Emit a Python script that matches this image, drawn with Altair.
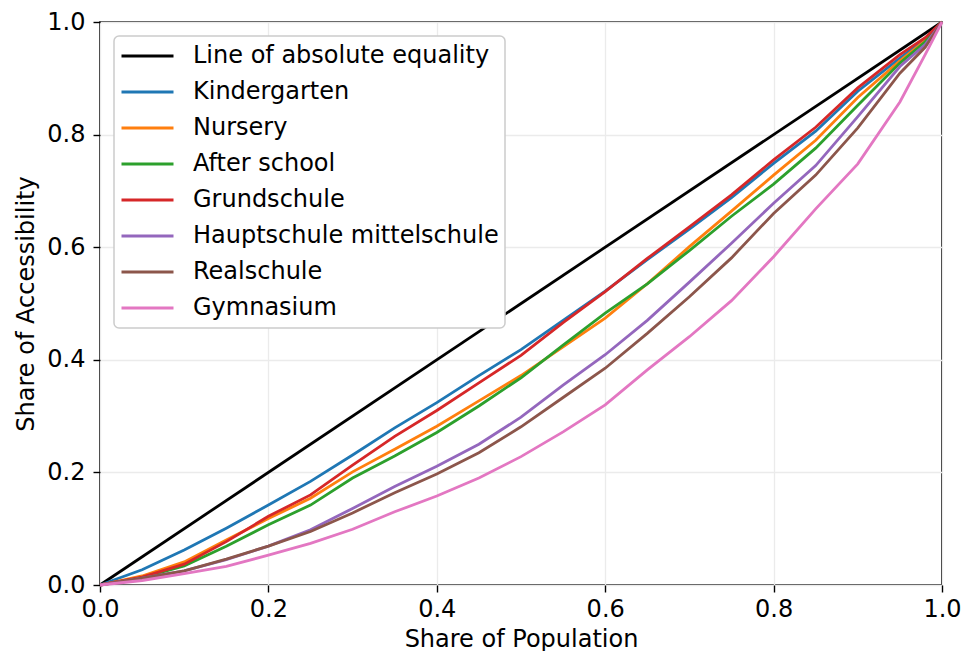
import altair as alt
import pandas as pd

# Share of population (x positions where curves were read)
share_pop = [0, .05, .1, .15, .2, .25, .3, .35, .4, .45, .5, .55, .6, .65, .7, .75, .8, .85, .9, .95, .98, 1]

series_names = [
    "Line of absolute equality",
    "Kindergarten",
    "Nursery",
    "After school",
    "Grundschule",
    "Hauptschule mittelschule",
    "Realschule",
    "Gymnasium",
]
series_colors = ["#000000", "#1f77b4", "#ff7f0e", "#2ca02c", "#d62728", "#9467bd", "#8c564b", "#e377c2"]

equality_x = [0, 1]
equality_y = [0, 1]

kindergarten = [0, .027, .062, .101, .142, .184, .231, .279, .324, .372, .418, .470, .522, .578, .632, .688, .749, .806, .877, .936, .970, 1]
nursery = [0, .016, .041, .080, .118, .154, .201, .241, .282, .327, .372, .423, .474, .535, .601, .664, .728, .790, .866, .931, .967, 1]
after_school = [0, .013, .034, .069, .107, .142, .190, .229, .271, .318, .368, .426, .483, .535, .594, .655, .712, .776, .852, .927, .965, 1]
grundschule = [0, .014, .037, .077, .122, .160, .213, .264, .310, .359, .408, .466, .521, .580, .636, .693, .755, .813, .883, .942, .972, 1]
hauptschule = [0, .012, .025, .045, .069, .098, .136, .175, .211, .250, .298, .355, .409, .470, .538, .607, .678, .745, .832, .921, .960, 1]
realschule = [0, .012, .025, .046, .069, .095, .128, .164, .197, .235, .281, .333, .385, .447, .512, .581, .660, .728, .812, .909, .955, 1]
gymnasium = [0, .008, .020, .033, .053, .074, .099, .130, .158, .190, .228, .272, .320, .382, .441, .505, .583, .668, .748, .858, .942, 1]

curves = [kindergarten, nursery, after_school, grundschule, hauptschule, realschule, gymnasium]

rows = []
for x, y in zip(equality_x, equality_y):
    rows.append({"series": series_names[0], "x": x, "y": y})
for name, ys in zip(series_names[1:], curves):
    for x, y in zip(share_pop, ys):
        rows.append({"series": name, "x": x, "y": y})
df = pd.DataFrame(rows)

FONT = "DejaVu Sans"
ticks = [0, 0.2, 0.4, 0.6, 0.8, 1.0]

chart = (
    alt.Chart(df)
    .mark_line(strokeWidth=2.8, clip=False)
    .encode(
        x=alt.X(
            "x:Q",
            scale=alt.Scale(domain=[0, 1], nice=False, zero=False),
            axis=alt.Axis(title="Share of Population", values=ticks, format=".1f"),
        ),
        y=alt.Y(
            "y:Q",
            scale=alt.Scale(domain=[0, 1], nice=False, zero=False),
            axis=alt.Axis(title="Share of Accessibility", values=ticks, format=".1f"),
        ),
        color=alt.Color(
            "series:N",
            scale=alt.Scale(domain=series_names, range=series_colors),
            legend=alt.Legend(
                title=None,
                orient="top-left",
                offset=14,
                fillColor="white",
                strokeColor="#cccccc",
                cornerRadius=5,
                padding=6,
                symbolType="stroke",
                symbolSize=2704,
                symbolStrokeWidth=3,
                clipHeight=28,
                labelFontSize=24,
                labelFont=FONT,
                labelColor="black",
                labelOffset=18,
                rowPadding=8,
                labelLimit=600,
            ),
        ),
        order=alt.Order("x:Q"),
    )
    .properties(
        width=842,
        height=563,
        autosize=alt.AutoSizeParams(type="none"),
        padding={"left": 92, "top": 14, "right": 19, "bottom": 66},
    )
    .configure_view(stroke="black", strokeWidth=1.6)
    .configure_legend(strokeWidth=1.5)
    .configure_axis(
        domain=False,
        grid=True,
        gridColor="#ebebeb",
        gridWidth=1.3,
        tickColor="black",
        tickSize=7,
        tickWidth=1.4,
        labelFont=FONT,
        labelFontSize=24,
        labelColor="black",
        labelPadding=5,
        titleFont=FONT,
        titleFontSize=24,
        titleFontWeight="normal",
        titleColor="black",
        titlePadding=8,
        labelFlush=False,
    )
    .configure_axisX(titlePadding=6)
    .configure_axisY(labelPadding=8)
)

chart.save("out.html", embed_options={"renderer": "svg", "actions": False})
